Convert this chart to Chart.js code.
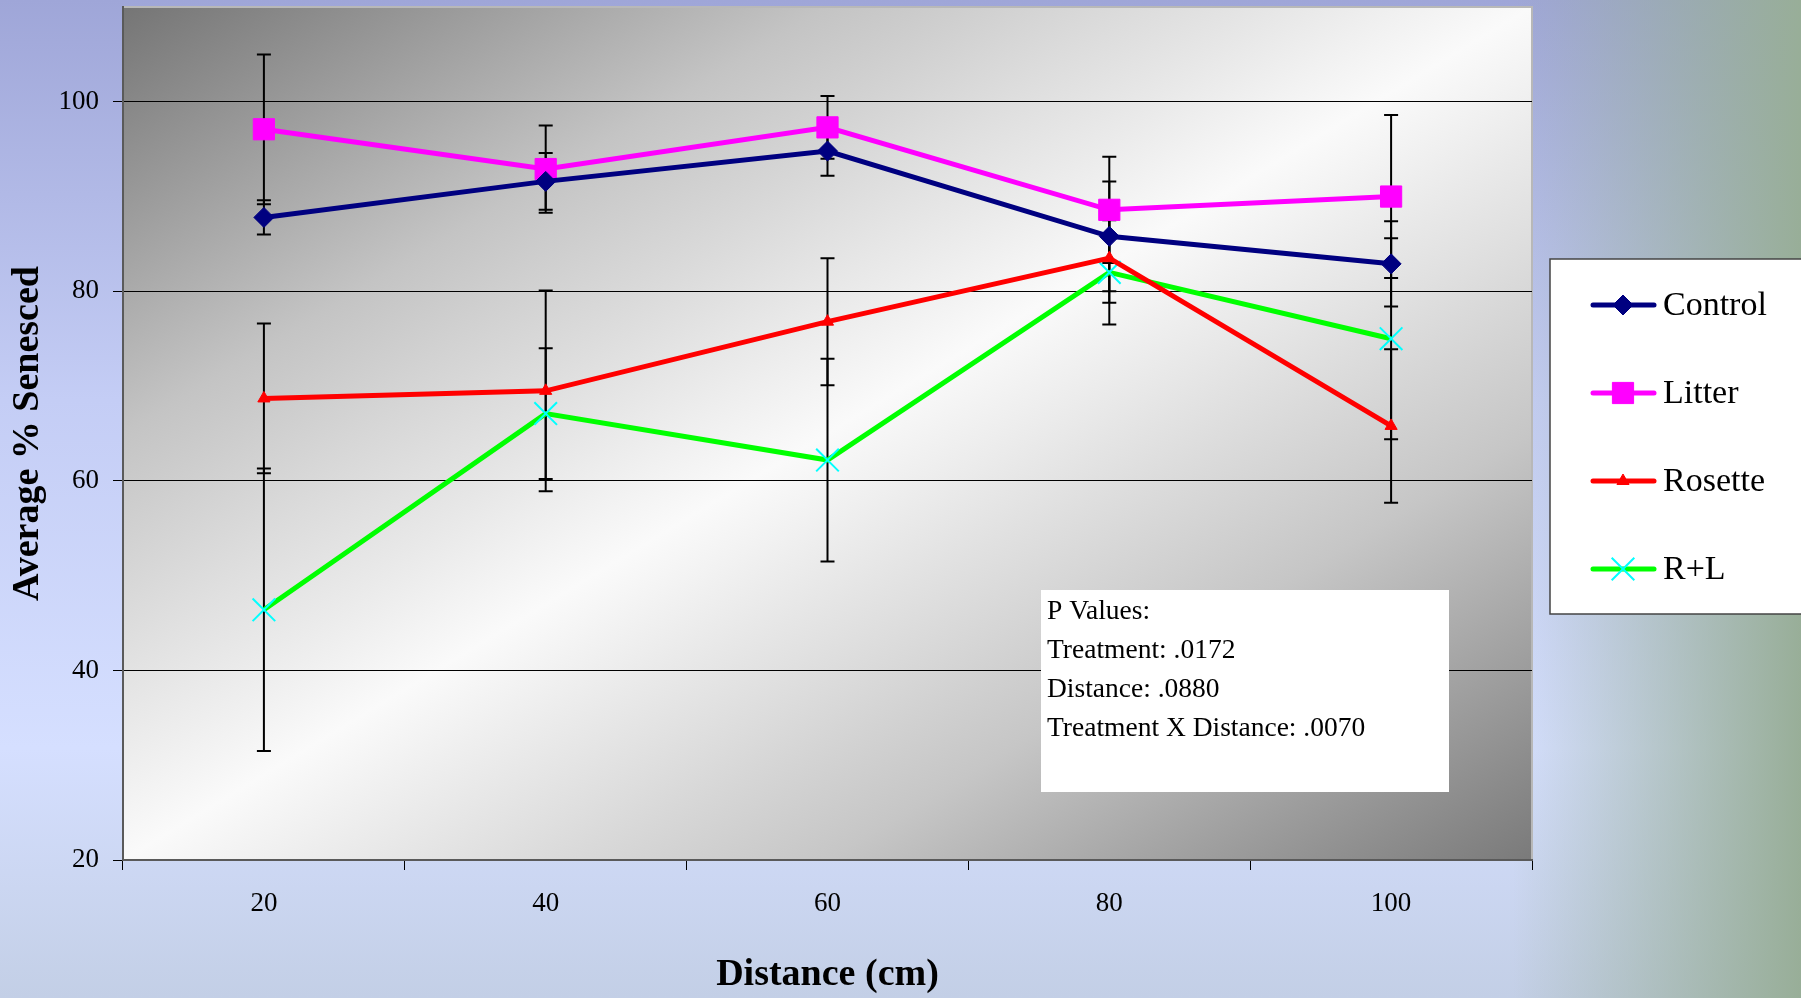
<!DOCTYPE html>
<html>
<head>
<meta charset="utf-8">
<title>Average % Senesced</title>
<script src="https://cdn.jsdelivr.net/npm/chart.js@4.4.1/dist/chart.umd.min.js"></script>
<style>
  html, body { margin: 0; padding: 0; width: 1801px; height: 998px; overflow: hidden; }
  body {
    background:
      linear-gradient(to right, rgba(152,174,152,0) 84%, rgba(152,174,152,1) 100%),
      linear-gradient(to bottom, #9fa6d8 0%, #c4cdf5 40%, #d5dfff 75%, #c3cfe6 100%);
  }
  #wrap { position: relative; width: 1801px; height: 998px; }
</style>
</head>
<body>
<div id="wrap"><canvas id="chart"></canvas></div>
<script>
// дані
const distances = ['20', '40', '60', '80', '100'];
const yTicks = [20, 40, 60, 80, 100];

const control = [87.8, 91.6, 94.8, 85.8, 82.9];
const controlErr = [1.8, 3.0, 2.6, 5.8, 4.5];

const litter = [97.1, 92.9, 97.3, 88.6, 90.0];
const litterErr = [7.9, 4.6, 3.3, 5.6, 8.6];

const rosette = [68.7, 69.5, 76.8, 83.5, 65.8];
const rosetteErr = [7.9, 10.6, 6.7, 4.7, 8.1];

const rl = [46.4, 67.1, 62.2, 82.0, 75.0];
const rlErr = [14.9, 6.9, 10.7, 5.5, 10.6];

const pValueLines = ['P Values:', 'Treatment: .0172', 'Distance: .0880', 'Treatment X Distance: .0070'];

const serif = "'Liberation Serif', 'Times New Roman', serif";
Chart.defaults.font.family = serif;
Chart.defaults.color = '#000';

// фон області графіка (сірий діагональний градієнт)
const plotBackground = {
  id: 'plotBackground',
  beforeDraw(chart) {
    const { ctx, chartArea: a } = chart;
    const W = a.right - a.left, H = a.bottom - a.top;
    const k = 2 * W * H / (W * W + H * H);
    const g = ctx.createLinearGradient(a.left, a.top, a.left + H * k, a.top + W * k);
    g.addColorStop(0, '#757575');
    g.addColorStop(0.25, '#c4c4c4');
    g.addColorStop(0.5, '#fafafa');
    g.addColorStop(0.75, '#c6c6c6');
    g.addColorStop(1, '#7a7a7a');
    ctx.save();
    ctx.fillStyle = g;
    ctx.fillRect(a.left, a.top, W, H);
    ctx.strokeStyle = '#b8b8b8';
    ctx.lineWidth = 2;
    ctx.beginPath();
    ctx.moveTo(a.left, a.top);
    ctx.lineTo(a.right, a.top);
    ctx.lineTo(a.right, a.bottom);
    ctx.stroke();
    ctx.restore();
  }
};

// планки похибок
const errorBars = {
  id: 'errorBars',
  beforeDatasetsDraw(chart) {
    const { ctx, scales: { x, y } } = chart;
    ctx.save();
    ctx.strokeStyle = '#000';
    ctx.lineWidth = 2;
    chart.data.datasets.forEach(ds => {
      ds.errors.forEach((e, j) => {
        const px = x.getPixelForValue(j);
        const top = y.getPixelForValue(ds.data[j] + e);
        const bot = y.getPixelForValue(ds.data[j] - e);
        ctx.beginPath();
        ctx.moveTo(px, top); ctx.lineTo(px, bot);
        ctx.moveTo(px - 7, top); ctx.lineTo(px + 7, top);
        ctx.moveTo(px - 7, bot); ctx.lineTo(px + 7, bot);
        ctx.stroke();
      });
    });
    ctx.restore();
  }
};

function drawMarker(ctx, ds, cx, cy) {
  const r = ds.pointRadius;
  ctx.fillStyle = ds.pointBackgroundColor;
  ctx.strokeStyle = ds.pointBorderColor;
  ctx.lineWidth = ds.pointBorderWidth;
  ctx.beginPath();
  if (ds.pointStyle === 'rectRot') {
    ctx.moveTo(cx - r, cy); ctx.lineTo(cx, cy - r); ctx.lineTo(cx + r, cy); ctx.lineTo(cx, cy + r);
    ctx.closePath(); ctx.fill(); ctx.stroke();
  } else if (ds.pointStyle === 'rect') {
    const s = r * Math.SQRT1_2;
    ctx.rect(cx - s, cy - s, 2 * s, 2 * s); ctx.fill(); ctx.stroke();
  } else if (ds.pointStyle === 'triangle') {
    const w = Math.sin(2 * Math.PI / 3) * r;
    ctx.moveTo(cx, cy - r); ctx.lineTo(cx + w, cy + r / 2); ctx.lineTo(cx - w, cy + r / 2);
    ctx.closePath(); ctx.fill(); ctx.stroke();
  } else {
    const s = r * Math.SQRT1_2;
    ctx.moveTo(cx - s, cy - s); ctx.lineTo(cx + s, cy + s);
    ctx.moveTo(cx + s, cy - s); ctx.lineTo(cx - s, cy + s);
    ctx.stroke();
  }
}

// легенда справа та блок з P-значеннями
const sideBoxes = {
  id: 'sideBoxes',
  afterDraw(chart) {
    const ctx = chart.ctx;
    ctx.save();
    // легенда
    ctx.fillStyle = '#fff';
    ctx.fillRect(1550, 259, 270, 355);
    ctx.strokeStyle = '#444';
    ctx.lineWidth = 1.5;
    ctx.strokeRect(1550, 259, 270, 355);
    chart.data.datasets.forEach((ds, i) => {
      const cy = 305 + i * 88;
      ctx.strokeStyle = ds.borderColor;
      ctx.lineWidth = 5;
      ctx.lineCap = 'round';
      ctx.beginPath();
      ctx.moveTo(1593, cy); ctx.lineTo(1654, cy);
      ctx.stroke();
      ctx.lineCap = 'butt';
      drawMarker(ctx, ds, 1623, cy);
      ctx.fillStyle = '#000';
      ctx.font = '34px ' + serif;
      ctx.textBaseline = 'middle';
      ctx.textAlign = 'left';
      ctx.fillText(ds.label, 1663, cy + 1);
    });
    // P-значення
    ctx.fillStyle = '#fff';
    ctx.fillRect(1041, 590, 408, 202);
    ctx.fillStyle = '#000';
    ctx.font = '27.5px ' + serif;
    pValueLines.forEach((t, i) => ctx.fillText(t, 1047, 612 + i * 39));
    ctx.restore();
  }
};

function series(label, data, errors, color, style, radius, pointColor, pointBorderWidth) {
  return {
    label, data, errors,
    borderColor: color,
    backgroundColor: color,
    borderWidth: 5,
    tension: 0,
    pointStyle: style,
    pointRadius: radius,
    pointHoverRadius: radius,
    pointBackgroundColor: pointColor,
    pointBorderColor: pointColor,
    pointBorderWidth: pointBorderWidth
  };
}

new Chart(document.getElementById('chart'), {
  type: 'line',
  data: {
    labels: distances,
    datasets: [
      series('Control', control, controlErr, '#000080', 'rectRot', 10, '#000080', 1),
      series('Litter', litter, litterErr, '#ff00ff', 'rect', 15, '#ff00ff', 1),
      series('Rosette', rosette, rosetteErr, '#ff0000', 'triangle', 7, '#ff0000', 1),
      series('R+L', rl, rlErr, '#00ff00', 'crossRot', 16, '#00ffff', 2)
    ]
  },
  options: {
    responsive: true,
    maintainAspectRatio: false,
    animation: false,
    events: [],
    layout: { autoPadding: false, padding: { left: 0, top: 7, right: 269, bottom: 0 } },
    plugins: { legend: { display: false }, tooltip: { enabled: false } },
    scales: {
      x: {
        type: 'category',
        offset: true,
        grid: { offset: true, drawOnChartArea: false, drawTicks: true, tickLength: 10, color: '#000', lineWidth: 1 },
        border: { display: true, color: '#5a5a5a', width: 2 },
        ticks: { font: { size: 27 }, padding: 18, color: '#000' },
        title: { display: true, text: 'Distance (cm)', font: { size: 38, weight: 'bold' }, padding: { top: 0, bottom: 0 } },
        afterFit(scale) { scale.height = 138; scale.paddingLeft = 0; scale.paddingRight = 0; }
      },
      y: {
        min: 20,
        max: 110,
        afterBuildTicks(scale) { scale.ticks = yTicks.map(v => ({ value: v })); },
        grid: { color: '#000', lineWidth: 1, drawTicks: true, tickLength: 10 },
        border: { display: true, color: '#5a5a5a', width: 2 },
        ticks: { font: { size: 27 }, padding: 14, color: '#000' },
        title: { display: true, text: 'Average % Senesced', font: { size: 38, weight: 'bold' }, padding: { top: 5, bottom: 0 } },
        afterFit(scale) { scale.width = 123; scale.paddingTop = 0; scale.paddingBottom = 0; }
      }
    }
  },
  plugins: [plotBackground, errorBars, sideBoxes]
});
</script>
</body>
</html>
